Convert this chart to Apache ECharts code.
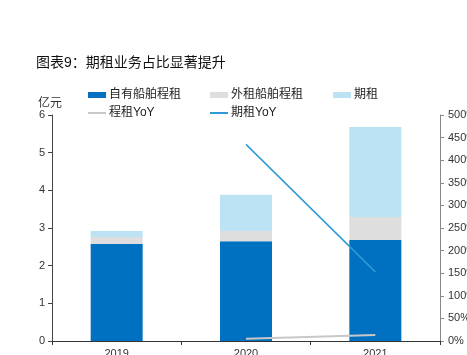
<!DOCTYPE html>
<html>
<head>
<meta charset="utf-8">
<script src="https://cdn.jsdelivr.net/npm/echarts@6/dist/echarts.min.js"></script>
<style>html,body{margin:0;padding:0;background:#fff}#c{width:467px;height:355px}</style>
</head>
<body>
<div id="c"></div>
<script>
var categories = ['2019', '2020', '2021'];
var ownVoyage = [2.58, 2.65, 2.68];
var charterVoyage = [0.18, 0.27, 0.61];
var timeCharter = [0.16, 0.96, 2.39];
var voyageYoY = [null, 5, 13];
var timeCharterYoY = [null, 435, 153];
var leftTicks = { min: 0, max: 6, interval: 1 };
var rightTicks = { min: 0, max: 500, interval: 50 };

var FONT = '"Liberation Sans", Arial, "Noto Sans CJK SC", sans-serif';
var chart = echarts.init(document.getElementById('c'), null, { renderer: 'canvas' });

function lg(name, left, top, icon, h) {
  return {
    data: [{ name: name, icon: icon }],
    left: left, top: top, itemWidth: 18, itemHeight: h, itemGap: 0,
    padding: 0,
    textStyle: { fontFamily: FONT, fontSize: 12, color: '#222', padding: [0, 0, 0, -2] }
  };
}

chart.setOption({
  animation: false,
  textStyle: { fontFamily: FONT },
  title: {
    text: '图表9：期租业务占比显著提升',
    left: 36, top: 56, padding: 0,
    textStyle: { fontFamily: FONT, fontSize: 14, fontWeight: 'normal', color: '#111' }
  },
  legend: [
    lg('自有船舶程租', 88, 89, 'rect', 6),
    lg('外租船舶程租', 210, 89, 'rect', 6),
    lg('期租', 333, 89, 'rect', 6),
    lg('程租YoY', 88, 107, 'rect', 2),
    lg('期租YoY', 210, 107, 'rect', 2)
  ],
  grid: { left: 52, right: 27, top: 115, bottom: 14, containLabel: false, outerBoundsMode: 'none' },
  xAxis: {
    type: 'category', data: categories,
    axisLine: { lineStyle: { color: '#333', width: 1 } },
    axisTick: { show: true, length: 4, lineStyle: { color: '#333' }, alignWithLabel: false },
    axisLabel: { fontSize: 11, color: '#333', margin: 7, fontFamily: FONT }
  },
  yAxis: [
    {
      type: 'value', min: leftTicks.min, max: leftTicks.max, interval: leftTicks.interval,
      name: '亿元', nameLocation: 'end', nameGap: 3,
      nameTextStyle: { fontSize: 12, color: '#333', align: 'center', padding: [0, 0, 0, -4], fontFamily: FONT },
      axisLine: { show: true, lineStyle: { color: '#444' } },
      axisTick: { show: true, length: 4, lineStyle: { color: '#444' } },
      axisLabel: { fontSize: 11, color: '#333', margin: 7, fontFamily: FONT },
      splitLine: { show: false }
    },
    {
      type: 'value', min: rightTicks.min, max: rightTicks.max, interval: rightTicks.interval,
      position: 'right',
      axisLine: { show: true, lineStyle: { color: '#888' } },
      axisTick: { show: true, length: 4, lineStyle: { color: '#888' } },
      axisLabel: { fontSize: 11, color: '#333', margin: 8, formatter: '{value}%', fontFamily: FONT },
      splitLine: { show: false }
    }
  ],
  series: [
    { name: '自有船舶程租', type: 'bar', stack: 's', data: ownVoyage, barWidth: 52,
      itemStyle: { color: '#0070c0' } },
    { name: '外租船舶程租', type: 'bar', stack: 's', data: charterVoyage, barWidth: 52,
      itemStyle: { color: '#dedede' } },
    { name: '期租', type: 'bar', stack: 's', data: timeCharter, barWidth: 52,
      itemStyle: { color: '#bde2f4' } },
    { name: '程租YoY', type: 'line', yAxisIndex: 1, data: voyageYoY, showSymbol: false, symbol: 'none',
      lineStyle: { color: '#c8c8c8', width: 2 }, itemStyle: { color: '#c8c8c8' } },
    { name: '期租YoY', type: 'line', yAxisIndex: 1, data: timeCharterYoY, showSymbol: false, symbol: 'none',
      lineStyle: { color: '#2e9ad6', width: 1.5 }, itemStyle: { color: '#2e9ad6' } }
  ]
});
</script>
</body>
</html>
